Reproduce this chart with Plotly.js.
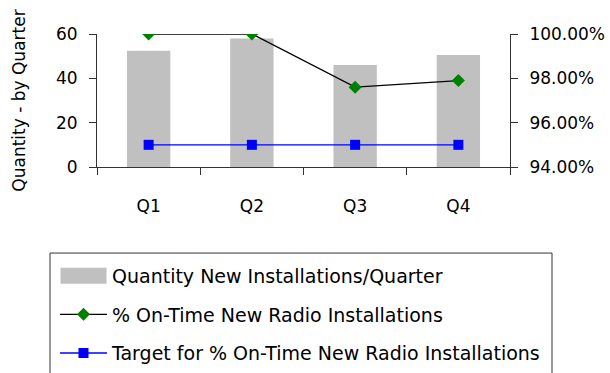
<!DOCTYPE html>
<html>
<head>
<meta charset="utf-8">
<script src="https://cdn.plot.ly/plotly-3.0.1.min.js"></script>
<style>
  html, body { margin: 0; padding: 0; background: #fff; }
  #chart { width: 610px; height: 373px; }
</style>
</head>
<body>
<div id="chart"></div>
<script>
// Quarterly installation figures
const quarters = ['Q1', 'Q2', 'Q3', 'Q4'];
const quantity = [52.5, 58, 46, 50.5];
const onTimePct = [1.0, 1.0, 0.976, 0.979];
const targetPct = [0.95, 0.95, 0.95, 0.95];

const FONT = '"DejaVu Sans", sans-serif';
const FS = 17;       // axis text
const LEGEND_FS = 19; // legend text

const traces = [
  {
    type: 'bar',
    name: 'Quantity New Installations/Quarter',
    x: quarters,
    y: quantity,
    width: 0.42,
    marker: { color: '#c0c0c0', line: { width: 0 } },
    yaxis: 'y',
    legendgroup: 'a'
  },
  {
    type: 'scatter',
    mode: 'lines+markers',
    name: '% On-Time New Radio Installations',
    x: quarters,
    y: onTimePct,
    yaxis: 'y2',
    line: { color: '#000000', width: 1.3 },
    marker: { symbol: 'diamond', color: '#008000', size: 10 },
    legendgroup: 'b'
  },
  {
    type: 'scatter',
    mode: 'lines+markers',
    name: 'Target for % On-Time New Radio Installations',
    x: quarters,
    y: targetPct,
    yaxis: 'y2',
    line: { color: '#0000ff', width: 1.3 },
    marker: { symbol: 'square', color: '#0000ff', size: 10 },
    legendgroup: 'c'
  }
];

const axisLine = '#333333';

const layout = {
  width: 610,
  height: 373,
  margin: { l: 97, r: 100, t: 34, b: 206, autoexpand: false },
  paper_bgcolor: '#ffffff',
  plot_bgcolor: '#ffffff',
  font: { family: FONT, size: FS, color: '#000000' },
  showlegend: true,
  xaxis: {
    type: 'category',
    showgrid: false,
    zeroline: false,
    showline: true,
    linecolor: axisLine,
    linewidth: 1,
    ticks: 'outside',
    tickson: 'boundaries',
    ticklen: 7,
    tickcolor: axisLine,
    ticklabelstandoff: 24,
    tickfont: { family: FONT, size: FS }
  },
  yaxis: {
    range: [0, 60],
    dtick: 20,
    showgrid: false,
    zeroline: false,
    showline: true,
    linecolor: axisLine,
    ticks: 'outside',
    ticklen: 7,
    tickcolor: axisLine,
    ticklabelstandoff: 8,
    tickfont: { family: FONT, size: FS },
    title: { text: 'Quantity - by Quarter', font: { family: FONT, size: FS }, standoff: 26 }
  },
  yaxis2: {
    overlaying: 'y',
    side: 'right',
    anchor: 'x',
    range: [0.94, 1.0],
    dtick: 0.02,
    tickformat: '.2%',
    showgrid: false,
    zeroline: false,
    showline: true,
    linecolor: axisLine,
    ticks: 'outside',
    ticklen: 7,
    tickcolor: axisLine,
    ticklabelstandoff: 8,
    tickfont: { family: FONT, size: FS }
  },
  yaxis3: {
    overlaying: 'y',
    side: 'right',
    anchor: 'x',
    range: [0.94, 1.0],
    dtick: 0.02,
    showgrid: false,
    zeroline: false,
    showline: false,
    ticks: 'inside',
    ticklen: 7,
    tickcolor: axisLine,
    showticklabels: false
  },
  legend: {
    x: -0.1017,
    xanchor: 'left',
    y: -0.675,
    yanchor: 'top',
    orientation: 'v',
    traceorder: 'grouped',
    tracegroupgap: 11,
    itemwidth: 47,
    borderwidth: 0,
    bgcolor: 'rgba(0,0,0,0)',
    font: { family: FONT, size: LEGEND_FS }
  },
  shapes: [
    {
      type: 'rect',
      xref: 'paper', yref: 'paper',
      x0: -0.1138, x1: 1.1017,
      y0: -1.75, y1: -0.647,
      line: { color: axisLine, width: 1 },
      fillcolor: 'rgba(0,0,0,0)',
      layer: 'below'
    }
  ]
};

Plotly.newPlot('chart', traces, layout, { displayModeBar: false, staticPlot: true }).then(function (gd) {
  // widen the bar swatch in the legend into a flat band
  const barIcon = gd.querySelector('.legend .traces .legendpoints path.legendbar') ||
                  gd.querySelector('.legend .traces .legendpoints path');
  if (barIcon) barIcon.setAttribute('d', 'M23,8H-23V-8H23Z');
});
</script>
</body>
</html>
